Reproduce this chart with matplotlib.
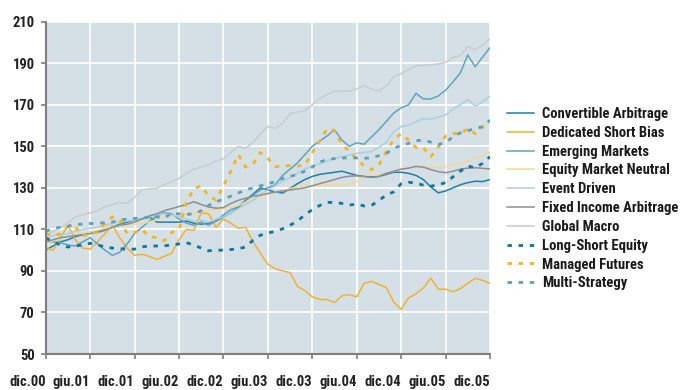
import numpy as np
import matplotlib.pyplot as plt
from matplotlib import font_manager

# Monthly index levels, dic.00 = start (61 points, Dec 2000 - Dec 2005)
tick_labels = ["dic.00", "giu.01", "dic.01", "giu.02", "dic.02", "giu.03",
               "dic.03", "giu.04", "dic.04", "giu.05", "dic.05"]

convertible_arbitrage = [
    100, 102, 104, 105, 106.5, 107.5, 108.5, 109, 110, 111, 112.5, 113.5, 114.5,
    115, 116, 113.5, 113.5, 113.5, 113.5, 114, 113, 112.5, 113, 114, 116, 118,
    120.5, 124, 127, 130, 129, 128, 127.5, 129.7, 132, 134, 135.5, 136.5, 137,
    137.5, 138, 137, 136, 135.5, 135.3, 135.5, 136.5, 137.5, 137.5, 137, 136,
    134, 130.5, 127.6, 128.5, 130, 131.5, 132.5, 133.2, 133, 134]

dedicated_short_bias = [
    101, 100, 106, 112, 105, 101, 100.5, 104, 108, 112, 106, 101, 97.5, 98, 97,
    95.5, 97, 98.5, 105, 110, 109.5, 118, 117.5, 111, 115, 113, 110.5, 111, 104,
    98.5, 93.2, 91, 90, 89.2, 82.5, 80.5, 77.5, 76.3, 76.2, 74.8, 78, 78.6, 77.5,
    84, 85, 83.5, 82, 75, 71.5, 77, 79, 81.8, 86.5, 81.3, 81.2, 80, 81.5, 84,
    86.4, 85.5, 84]

emerging_markets = [
    104, 104, 103.5, 102.5, 102, 104, 106, 103, 100, 97.5, 99, 103, 108, 111,
    114, 116.5, 118, 117.5, 115, 113, 112, 113.5, 112, 114, 117, 119.5, 121, 124,
    126.5, 129, 130, 131.5, 136, 139, 142, 146, 150, 152.5, 155, 158, 153, 150,
    151.7, 151, 154.5, 158, 162, 166, 168.5, 170, 175.5, 172.8, 172.8, 174.2,
    177, 181, 185.4, 194, 188.3, 193, 197.5]

equity_market_neutral = [
    103.5, 104.5, 105.5, 106.5, 107.5, 108, 108.5, 109.5, 110.5, 111, 112, 112.5,
    112.5, 113, 113.5, 114.5, 115.5, 116.5, 117, 117.5, 118, 118.5, 119, 119.5,
    120, 120.5, 121.5, 123, 124.5, 126, 127, 128, 128.5, 129.5, 130.5, 131, 131,
    131, 131.3, 131.3, 131.3, 132, 133, 136, 136, 136.2, 137, 138, 139, 140,
    140.3, 140.3, 140, 140, 140.2, 141, 142, 143, 144.2, 145.5, 147]

event_driven = [
    106, 107, 107.5, 108, 109, 110, 110.5, 111, 112, 113, 113.5, 114, 114.5, 115,
    116, 117, 117.5, 117, 116, 115, 114, 114.5, 113.5, 115, 116, 118, 120, 122,
    124, 127, 129, 131, 133, 135, 137, 139, 140.5, 141.5, 143, 144.2, 145, 145.8,
    146.6, 147, 147.5, 149.5, 152, 157, 159.5, 160.2, 161.8, 163.4, 163, 164,
    165, 168, 170, 172.6, 169.4, 171.5, 174.2]

fixed_income_arbitrage = [
    104, 105, 106, 106.5, 107, 107.5, 108, 108.5, 109.5, 111, 112, 112.5, 113.5,
    115, 116.5, 117.5, 119, 120, 121, 122, 123.3, 122, 120.8, 120.2, 120.5,
    122.5, 124, 125, 126, 126.5, 127.3, 128, 128.5, 129, 129.5, 130, 131, 132,
    133, 134, 135, 135.6, 135.8, 135.6, 135, 135.5, 137, 138, 139, 139.5, 140.3,
    140, 138.8, 137.8, 137.3, 138, 139, 139.5, 139.7, 139.4, 139.1]

global_macro = [
    107, 109, 111, 113, 116, 117, 118, 119, 121, 122, 123, 122.5, 125.5, 129,
    129.5, 129.7, 131.5, 133, 134.5, 137, 139, 140, 141, 143, 144, 147, 150, 149,
    152, 156, 159.5, 158.6, 161, 165.8, 166.5, 167, 170, 173, 175, 176.5, 176.5,
    176.7, 177.6, 179.2, 177.5, 176.6, 179.2, 183.5, 185, 187, 188.8, 189, 189.2,
    189.6, 190.4, 192.8, 193.6, 198, 196.4, 198.8, 201.7]

long_short_equity = [
    106, 104, 102.5, 101.5, 102, 102.5, 103.3, 102.5, 101.6, 101, 100.8, 100.3,
    100.5, 101.6, 102, 102, 102.1, 102.5, 103, 103.6, 102.5, 101, 99.7, 100, 100,
    100.3, 100.7, 101.5, 104.8, 107.2, 108.3, 109, 110.3, 112, 114, 117, 119.5,
    121.5, 123, 123, 122.5, 121.7, 122.2, 121.3, 121.5, 124, 126.5, 128.1, 132,
    132.7, 132.3, 131.3, 130.8, 131.5, 132.5, 135.3, 138, 140.5, 139.7, 141.8,
    145]

managed_futures = [
    108, 107, 108, 111.5, 111, 107, 107.5, 109, 113, 116, 115, 108, 108.5, 110,
    106.5, 106, 104.5, 108.5, 110, 123, 129.5, 131, 126, 124.2, 131, 138, 146,
    140, 141.5, 147, 144.2, 140.2, 140.5, 140.7, 140.5, 140.9, 147, 152.5, 158.5,
    157.5, 150.9, 147.5, 144, 140.5, 138.8, 141, 147.5, 153.5, 156, 153, 149.4,
    149.4, 145, 149.5, 155, 156.2, 156, 158.5, 156, 159.5, 158.6]

multi_strategy = [
    109, 110.5, 111, 111.5, 112.5, 112.5, 112.8, 113, 113.2, 113.5, 114.5, 115,
    115.3, 115.5, 115.8, 116, 115.5, 117.7, 117.5, 117.2, 117.5, 119, 121.5,
    123.3, 124.5, 126, 127.5, 129, 130, 131, 132, 133, 134.5, 135.5, 136.5, 138,
    140, 142.5, 143.5, 144.1, 144.4, 144.4, 144.4, 144.2, 144.5, 145.5, 146.6,
    149, 150.5, 151.4, 152.7, 153, 152, 150.9, 151.7, 154.6, 156.5, 157.5, 158.6,
    159.4, 162.6]

series = [
    ("Convertible Arbitrage", convertible_arbitrage, "#1f80a6", "-", 1.1),
    ("Dedicated Short Bias", dedicated_short_bias, "#f0b232", "-", 1.1),
    ("Emerging Markets", emerging_markets, "#5ea4c0", "-", 1.1),
    ("Equity Market Neutral", equity_market_neutral, "#f8d890", "-", 1.1),
    ("Event Driven", event_driven, "#a9d0e2", "-", 1.1),
    ("Fixed Income Arbitrage", fixed_income_arbitrage, "#8c9094", "-", 1.1),
    ("Global Macro", global_macro, "#c8cdd2", "-", 1.1),
    ("Long-Short Equity", long_short_equity, "#0c78a0", (0, (1.6, 2.4)), 2.0),
    ("Managed Futures", managed_futures, "#f5b51c", (0, (1.6, 2.4)), 2.0),
    ("Multi-Strategy", multi_strategy, "#5ca2b9", (0, (1.6, 2.4)), 2.0),
]

# narrow bold face if one is installed, otherwise shrink the text to fit
installed = {f.name for f in font_manager.fontManager.ttflist}
font_choices = [("Liberation Sans Narrow", 10.5), ("DejaVu Sans Condensed", 9.5),
                ("Roboto Condensed", 10.5), ("Roboto", 8.5), ("DejaVu Sans", 7.8)]
family, base_size = next((f, s) for f, s in font_choices if f in installed)
plt.rcParams['font.family'] = [family, 'DejaVu Sans']
plt.rcParams['font.weight'] = 'bold'

fig = plt.figure(figsize=(6.85, 3.9), dpi=100)
ax = fig.add_axes([45.7 / 685, 36 / 390, (490 - 45.7) / 685, (354 - 21.7) / 390])
ax.set_facecolor("#d5dfe6")

months = np.arange(len(global_macro))
for name, values, color, style, lw in series:
    ax.plot(months, values, color=color, linestyle=style, linewidth=lw, label=name)

ax.set_xlim(0, 60)
ax.set_ylim(50, 210)
ax.set_yticks(np.arange(50, 211, 20))
ax.set_xticks(np.arange(0, 61, 6))
ax.set_xticklabels(tick_labels, ha="right")
ax.grid(True, color="white", linewidth=1.2)
ax.set_axisbelow(True)

for side in ("top", "right"):
    ax.spines[side].set_visible(False)
for side in ("left", "bottom"):
    ax.spines[side].set_color("#7f7f7f")
    ax.spines[side].set_linewidth(1.5)

ax.tick_params(axis="both", colors="#7f7f7f", labelcolor="#222222",
               labelsize=base_size, width=1.2, length=3.5)
ax.tick_params(axis="y", pad=4.5)
ax.tick_params(axis="x", pad=11.5)
for lbl in ax.get_xticklabels() + ax.get_yticklabels():
    lbl.set_fontweight("bold")

leg = fig.legend(loc="upper left", bbox_to_anchor=(507 / 685, 1 - 107 / 390),
                 frameon=False, fontsize=base_size, handlelength=27 / (base_size * 1.389),
                 handletextpad=8 / (base_size * 1.389), labelspacing=0.33,
                 borderpad=0, borderaxespad=0)
for t in leg.get_texts():
    t.set_color("#1a1a1a")
    t.set_fontweight("bold")

fig.savefig("out.png", dpi=100)
